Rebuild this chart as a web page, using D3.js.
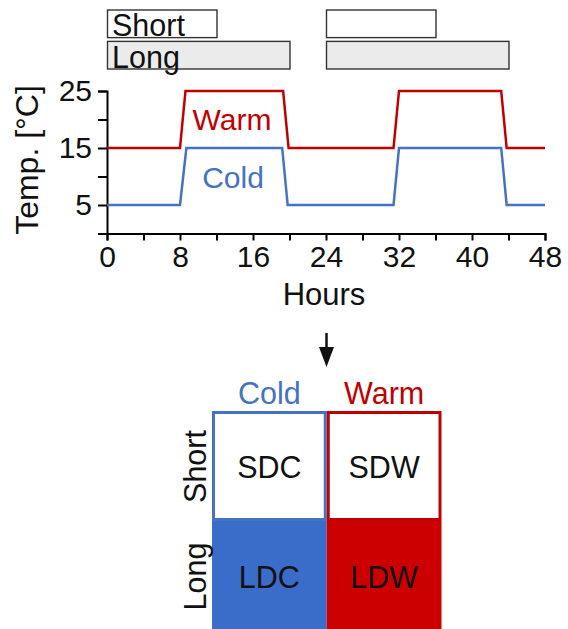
<!DOCTYPE html>
<html><head><meta charset="utf-8">
<script src="https://cdn.jsdelivr.net/npm/d3@7"></script>
<style>
html,body{margin:0;padding:0;background:#fff;}
text{font-family:"Liberation Sans",Arial,sans-serif;}
</style></head>
<body>
<svg id="c" width="568" height="629"></svg>
<script>
// ---- data ----
const warmTime = [0, 8, 8.6, 19.3, 19.9, 31.4, 32, 43.2, 43.8, 48];
const warmTemp = [15, 15, 25, 25, 15, 15, 25, 25, 15, 15];
const coldTime = [0, 8, 8.7, 19.2, 19.8, 31.4, 32, 43.2, 43.8, 48];
const coldTemp = [5, 5, 15, 15, 5, 5, 15, 15, 5, 5];
const photoperiods = ["Short", "Long"];
const lightOn = [[[0, 12], [24, 36]], [[0, 20], [24, 44]]];
const xTicks = [0, 4, 8, 12, 16, 20, 24, 28, 32, 36, 40, 44, 48];
const xLabels = [0, 8, 16, 24, 32, 40, 48];
const yTicks = [0, 5, 10, 15, 20, 25];
const yLabels = [5, 15, 25];
const temps = ["Cold", "Warm"];
const cellLabels = [["SDC", "SDW"], ["LDC", "LDW"]];

const RED = "#c00000", BLUE = "#4472c4";
const FILL_BLUE = "#3a6cc9", FILL_RED = "#cc0000";
const F = '"Liberation Sans",Arial,sans-serif';

const svg = d3.select("#c");
const x = d3.scaleLinear().domain([0, 48]).range([107, 545]);
const y = d3.scaleLinear().domain([0, 25]).range([233.5, 91]);

// ---- photoperiod bars ----
const barY = d3.scaleBand().domain(photoperiods).range([10, 69]).paddingInner(0.12);
photoperiods.forEach((p, i) => {
  const g = svg.append("g");
  g.selectAll("rect").data(lightOn[i]).join("rect")
    .attr("x", d => x(d[0]) + 0.5)
    .attr("width", d => x(d[1]) - x(d[0]))
    .attr("y", barY(p))
    .attr("height", barY.bandwidth())
    .attr("fill", p === "Short" ? "#ffffff" : "#ebebeb")
    .attr("stroke", "#333").attr("stroke-width", 1.4);
  g.append("text").attr("x", x(0) + 5).attr("y", barY(p) + barY.bandwidth() - 1.5)
    .attr("font-size", 30.5).attr("fill", "#111").text(p);
});

// ---- axes ----
const xAxis = d3.axisBottom(x).tickValues(xTicks).tickSize(7)
  .tickFormat(d => xLabels.includes(d) ? d : "").tickPadding(5);
const gx = svg.append("g").attr("transform", `translate(0,${y(0)})`).call(xAxis);
gx.select(".domain").attr("stroke-width", 2);
gx.selectAll(".tick line").attr("stroke-width", 2);
gx.selectAll(".tick text").attr("font-size", 30).attr("font-family", F).attr("fill", "#111");

const yAxis = d3.axisLeft(y).tickValues(yTicks).tickSize(9)
  .tickFormat(d => yLabels.includes(d) ? d : "").tickPadding(6);
const gy = svg.append("g").attr("transform", `translate(${x(0)},0)`).call(yAxis);
gy.select(".domain").attr("stroke-width", 2);
gy.selectAll(".tick line").attr("stroke-width", 2);
gy.selectAll(".tick text").attr("font-size", 30).attr("font-family", F).attr("fill", "#111");

svg.append("text").attr("x", (x(0) + x(48)) / 2 - 2).attr("y", 305)
  .attr("text-anchor", "middle").attr("font-size", 31).attr("fill", "#111").text("Hours");
svg.append("text").attr("transform", `translate(38,${160}) rotate(-90)`)
  .attr("text-anchor", "middle").attr("font-size", 32).attr("fill", "#111").text("Temp. [°C]");

// ---- lines ----
const line = d3.line().x(d => x(d[0])).y(d => y(d[1]));
svg.append("path").datum(warmTime.map((t, i) => [t, warmTemp[i]]))
  .attr("d", line).attr("fill", "none").attr("stroke", RED).attr("stroke-width", 2.5);
svg.append("path").datum(coldTime.map((t, i) => [t, coldTemp[i]]))
  .attr("d", line).attr("fill", "none").attr("stroke", BLUE).attr("stroke-width", 2.5);
svg.append("text").attr("x", 232).attr("y", 129.5).attr("text-anchor", "middle")
  .attr("font-size", 30).attr("fill", RED).text("Warm");
svg.append("text").attr("x", 233).attr("y", 187.5).attr("text-anchor", "middle")
  .attr("font-size", 30).attr("fill", BLUE).text("Cold");

// ---- arrow ----
svg.append("line").attr("x1", 326.5).attr("x2", 326.5).attr("y1", 333).attr("y2", 352)
  .attr("stroke", "#111").attr("stroke-width", 2.5);
svg.append("path").attr("d", "M319,347 L334,347 L326.5,367 Z").attr("fill", "#111");

// ---- treatment grid ----
const cx = d3.scaleBand().domain(temps).range([212, 441.5]);
const cy = d3.scaleBand().domain(photoperiods).range([411, 631]);
const cells = [];
photoperiods.forEach((p, r) => temps.forEach((t, c) => cells.push({ p, t, label: cellLabels[r][c] })));
const col = t => t === "Cold" ? BLUE : RED;
const fillC = d => d.p === "Short" ? "#ffffff" : (d.t === "Cold" ? FILL_BLUE : FILL_RED);
svg.append("g").selectAll("rect").data(cells).join("rect")
  .attr("x", d => cx(d.t) + 1.5).attr("y", d => cy(d.p) + 1.5)
  .attr("width", cx.bandwidth() - 3).attr("height", cy.bandwidth() - 3)
  .attr("fill", fillC).attr("stroke", d => d.p === "Short" ? col(d.t) : fillC(d)).attr("stroke-width", 3);
svg.append("g").selectAll("text").data(cells).join("text")
  .attr("x", d => cx(d.t) + cx.bandwidth() / 2)
  .attr("y", d => cy(d.p) + 67)
  .attr("text-anchor", "middle").attr("font-size", 30.5).attr("fill", "#111")
  .text(d => d.label);
svg.append("g").selectAll("text").data(temps).join("text")
  .attr("x", d => cx(d) + cx.bandwidth() / 2).attr("y", 404)
  .attr("text-anchor", "middle").attr("font-size", 30.5).attr("fill", d => col(d)).text(d => d);
svg.append("g").selectAll("text").data(photoperiods).join("text")
  .attr("transform", d => `translate(206,${d === "Short" ? 466.5 : 576.5}) rotate(-90)`)
  .attr("text-anchor", "middle").attr("font-size", 30.5).attr("fill", "#111").text(d => d);
</script>
</body></html>
